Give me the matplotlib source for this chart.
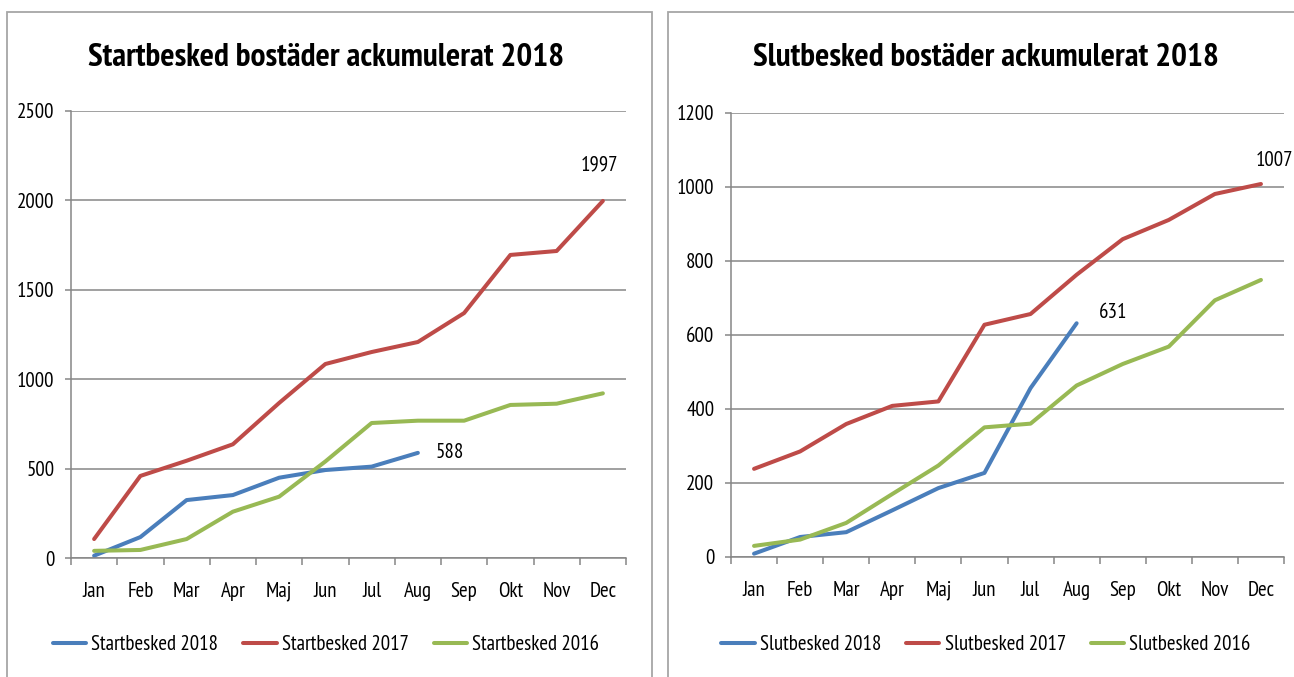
import matplotlib.pyplot as plt
from matplotlib.patches import Rectangle
import numpy as np

plt.rcParams['font.family'] = ['PT Sans Narrow', 'Carlito', 'DejaVu Sans']

months = ['Jan', 'Feb', 'Mar', 'Apr', 'Maj', 'Jun', 'Jul', 'Aug', 'Sep', 'Okt', 'Nov', 'Dec']

# Startbesked (left chart)
start_2018 = [13, 117, 324, 352, 449, 492, 511, 588]
start_2017 = [106, 459, 544, 636, 867, 1085, 1152, 1208, 1370, 1695, 1717, 1997]
start_2016 = [40, 45, 106, 259, 343, 540, 755, 768, 768, 856, 863, 921]

# Slutbesked (right chart)
slut_2018 = [9, 54, 67, 126, 186, 227, 456, 631]
slut_2017 = [238, 285, 359, 408, 420, 627, 656, 762, 858, 910, 980, 1007]
slut_2016 = [30, 47, 92, 170, 247, 350, 360, 463, 521, 568, 693, 748]

blue, red, green = '#4A7EBB', '#BE4B48', '#98B954'
grey = '#868686'

fig = plt.figure(figsize=(12.94, 6.77), dpi=100)

# panel frames
fig.patches.append(Rectangle((7 / 1294, -0.05), 645 / 1294, 1 - 12 / 677 + 0.05,
                             transform=fig.transFigure, fill=False, ec='#A6A6A6', lw=1.3))
fig.patches.append(Rectangle((668 / 1294, -0.05), 700 / 1294, 1 - 12 / 677 + 0.05,
                             transform=fig.transFigure, fill=False, ec='#A6A6A6', lw=1.3))


def draw(ax, s18, s17, s16, name, title, ymax, ystep, lab18, lab17, cx):
    x = np.arange(12) + 0.5
    h1, = ax.plot(x[:len(s18)], s18, color=blue, lw=2.9, label=name + ' 2018', solid_capstyle='round')
    h2, = ax.plot(x, s17, color=red, lw=2.9, label=name + ' 2017', solid_capstyle='round')
    h3, = ax.plot(x, s16, color=green, lw=2.9, label=name + ' 2016', solid_capstyle='round')
    ax.set_xlim(0, 12)
    ax.set_ylim(0, ymax)
    ax.set_yticks(np.arange(0, ymax + 1, ystep))
    ax.yaxis.grid(True, color=grey, lw=1.1)
    ax.set_axisbelow(True)
    # ticks between months, labels in the middle
    ax.set_xticks(np.arange(13))
    ax.set_xticklabels([])
    ax.set_xticks(x, minor=True)
    ax.set_xticklabels(months, minor=True)
    ax.tick_params(axis='x', which='major', length=5, color=grey, width=1.1)
    ax.tick_params(axis='x', which='minor', length=0, pad=17, labelsize=15)
    ax.tick_params(axis='y', length=4, color=grey, width=1.1, pad=8, labelsize=15)
    for s in ['top', 'right']:
        ax.spines[s].set_visible(False)
    for s in ['left', 'bottom']:
        ax.spines[s].set_color(grey)
        ax.spines[s].set_linewidth(1.1)
    fig.text(cx / 1294, 1 - 58 / 677, title, fontsize=24, fontweight='bold',
             ha='center', va='center')
    ax.annotate(str(s18[-1]), (x[len(s18) - 1], s18[-1]), xytext=lab18,
                textcoords='offset points', fontsize=15, va='center', ha='left')
    ax.annotate(str(s17[-1]), (x[-1], s17[-1]), xytext=lab17,
                textcoords='offset points', fontsize=15, va='center', ha='left')
    fig.legend(handles=[h1, h2, h3], loc='center', bbox_to_anchor=(cx / 1294, 1 - 645 / 677),
               ncol=3, frameon=False, fontsize=15, handlelength=1.6,
               handletextpad=0.25, columnspacing=1.2)


ax1 = fig.add_axes([71 / 1294, 1 - 558 / 677, 555 / 1294, 447 / 677])
draw(ax1, start_2018, start_2017, start_2016, 'Startbesked',
     'Startbesked bostäder ackumulerat 2018', 2500, 500, (13, 0), (-16, 26), 326)

ax2 = fig.add_axes([731 / 1294, 1 - 557 / 677, 553 / 1294, 444.5 / 677])
draw(ax2, slut_2018, slut_2017, slut_2016, 'Slutbesked',
     'Slutbesked bostäder ackumulerat 2018', 1200, 200, (16, 8), (-4, 17), 986)

fig.savefig('out.png', dpi=100)
